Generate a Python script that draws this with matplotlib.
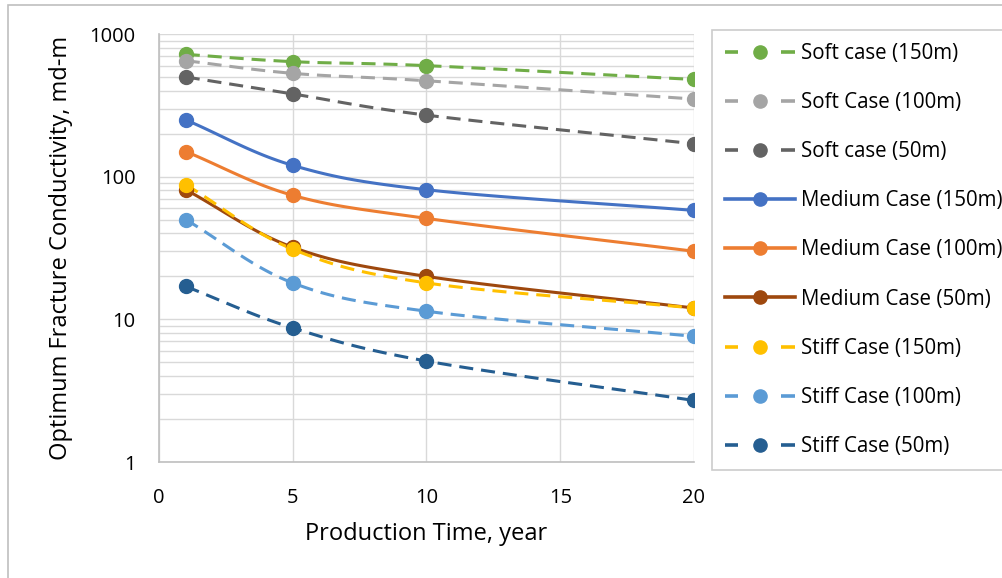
import numpy as np
import matplotlib
matplotlib.use("Agg")
import matplotlib.pyplot as plt
from matplotlib.patches import Rectangle
from matplotlib.lines import Line2D
from matplotlib.legend_handler import HandlerBase

plt.rcParams['font.family'] = ['Open Sans', 'DejaVu Sans']

years = [1, 5, 10, 20]

soft_150 = [720, 640, 600, 480]
soft_100 = [650, 530, 470, 350]
soft_50 = [500, 380, 270, 170]
medium_150 = [250, 120, 81, 58]
medium_100 = [150, 74, 51, 30]
medium_50 = [81, 32, 20, 12]
stiff_150 = [88, 31, 18, 12]
stiff_100 = [50, 18, 11.4, 7.6]
stiff_50 = [17, 8.7, 5.1, 2.7]

labels = ["Soft case (150m)", "Soft Case (100m)", "Soft case (50m)",
          "Medium Case (150m)", "Medium Case (100m)", "Medium Case (50m)",
          "Stiff Case (150m)", "Stiff Case (100m)", "Stiff Case (50m)"]
series = [soft_150, soft_100, soft_50, medium_150, medium_100, medium_50,
          stiff_150, stiff_100, stiff_50]
colors = ["#70AD47", "#A5A5A5", "#636363", "#4472C4", "#ED7D31", "#9E480E",
          "#FFC000", "#5B9BD5", "#255E91"]
dashed = [True, True, True, False, False, False, True, True, True]


def smooth(xs, ys, n=40):
    """Catmull-Rom style smoothing in (x, log10 y) space."""
    xs = np.asarray(xs, float)
    ly = np.log10(np.asarray(ys, float))
    px = np.concatenate([[2 * xs[0] - xs[1]], xs, [2 * xs[-1] - xs[-2]]])
    py = np.concatenate([[2 * ly[0] - ly[1]], ly, [2 * ly[-1] - ly[-2]]])
    out_x, out_y = [], []
    for i in range(1, len(px) - 2):
        x0, x1, x2, x3 = px[i - 1:i + 3]
        y0, y1, y2, y3 = py[i - 1:i + 3]
        # Bezier control points (tension 1/6)
        c1x, c1y = x1 + (x2 - x0) / 6, y1 + (y2 - y0) / 6
        c2x, c2y = x2 - (x3 - x1) / 6, y2 - (y3 - y1) / 6
        t = np.linspace(0, 1, n)
        bx = (1 - t) ** 3 * x1 + 3 * (1 - t) ** 2 * t * c1x + 3 * (1 - t) * t ** 2 * c2x + t ** 3 * x2
        by = (1 - t) ** 3 * y1 + 3 * (1 - t) ** 2 * t * c1y + 3 * (1 - t) * t ** 2 * c2y + t ** 3 * y2
        out_x.append(bx)
        out_y.append(by)
    return np.concatenate(out_x), 10 ** np.concatenate(out_y)


W, H = 1003, 578
fig = plt.figure(figsize=(W / 100, H / 100), dpi=100)
ax = fig.add_axes([159 / W, 1 - 462 / H, (694 - 159) / W, (462 - 34) / H])

# outer chart border
fig.patches.append(Rectangle((8 / W, -0.1), 1.2, 1 - 5 / H + 0.1, transform=fig.transFigure,
                             fill=False, edgecolor="#BFBFBF", linewidth=1.2, zorder=0))

lw = 2.2
dash = (4.6, 2.6)
for ys, lab, c, d in zip(series, labels, colors, dashed):
    sx, sy = smooth(years, ys)
    ls = (0, dash) if d else "-"
    ax.plot(sx, sy, color=c, lw=lw, linestyle=ls, zorder=3)
    ax.plot(years, ys, "o", color=c, markersize=10, zorder=4)

ax.set_yscale("log")
ax.set_xlim(0, 20)
ax.set_ylim(1, 1000)
ax.set_xticks([0, 5, 10, 15, 20])
ax.set_yticks([1, 10, 100, 1000])
ax.set_yticklabels(["1", "10", "100", "1000"])
ax.set_xticklabels(["0", "5", "10", "15", "20"])
ax.grid(True, which="major", color="#D9D9D9", lw=1.0, zorder=0)
ax.grid(True, which="minor", axis="y", color="#D9D9D9", lw=1.0, zorder=0)
ax.tick_params(which="both", length=0, labelsize=14.5, colors="black")
ax.tick_params(axis="y", pad=17)
ax.tick_params(axis="x", pad=19)
for s in ["top", "right"]:
    ax.spines[s].set_visible(False)
for s in ["left", "bottom"]:
    ax.spines[s].set_color("#BFBFBF")
    ax.spines[s].set_linewidth(1.2)

ax.set_xlabel("Production Time, year", fontsize=17, labelpad=10)
ax.set_ylabel("Optimum Fracture Conductivity, md-m", fontsize=17, labelpad=12)


class DashDotHandler(HandlerBase):
    def __init__(self, color, is_dashed):
        super().__init__()
        self.color = color
        self.is_dashed = is_dashed

    def create_artists(self, legend, orig_handle, xdescent, ydescent, width, height, fontsize, trans):
        y = height / 2 - ydescent
        arts = []
        if self.is_dashed:
            seg = width * 0.19
            arts.append(Line2D([0, seg], [y, y], color=self.color, lw=lw + 0.4,
                               solid_capstyle="butt", transform=trans))
            arts.append(Line2D([width - seg, width], [y, y], color=self.color, lw=lw + 0.4,
                               solid_capstyle="butt", transform=trans))
        else:
            arts.append(Line2D([0, width], [y, y], color=self.color, lw=lw + 0.4, transform=trans))
        arts.append(Line2D([width / 2], [y], marker="o", color=self.color, markersize=9.5,
                           linestyle="none", transform=trans))
        return arts


handles = [Line2D([], [], color=c) for c in colors]
hmap = {h: DashDotHandler(c, d) for h, c, d in zip(handles, colors, dashed)}
leg = fig.legend(handles, labels, handler_map=hmap, loc="upper left",
                 bbox_to_anchor=(712 / W, 1 - 30 / H), bbox_transform=fig.transFigure,
                 fontsize=14.8, frameon=True, fancybox=False, edgecolor="#BFBFBF",
                 handlelength=3.4, handletextpad=0.29, labelspacing=1.37,
                 borderpad=0.62, borderaxespad=0)
leg.get_frame().set_linewidth(1.2)

fig.savefig("out.png", dpi=100)
